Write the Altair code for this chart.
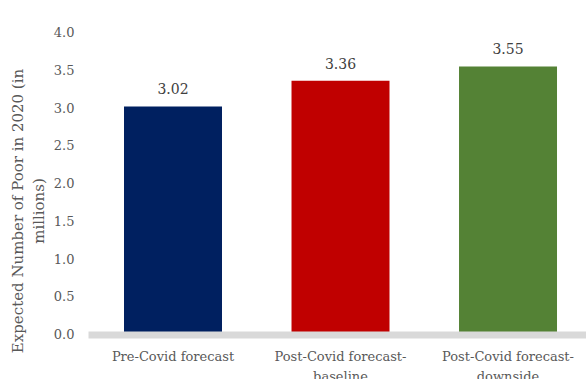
import altair as alt
import pandas as pd

categories = ["Pre-Covid forecast", "Post-Covid forecast-baseline", "Post-Covid forecast-downside"]
values = [3.02, 3.36, 3.55]
colors = ["#002060", "#C00000", "#548235"]
yticks = [0, 0.5, 1, 1.5, 2, 2.5, 3, 3.5, 4]

df = pd.DataFrame({"cat": categories, "val": values, "color": colors})

FONT = "DejaVu Serif"

base = alt.Chart(df).encode(
    x=alt.X("cat:N", sort=categories,
            scale=alt.Scale(paddingInner=0.415, paddingOuter=0.194, align=0.554),
            axis=alt.Axis(title=None, labelAngle=0, domainColor="#d9d9d9", domainWidth=7,
                          ticks=False, labelPadding=22, labelFontSize=13, labelFont=FONT,
                          labelColor="#595959", labelLineHeight=20, labelBaseline="middle",
                          zindex=1, labelOverlap=False,
                          labelExpr="split(replace(datum.label, 'forecast-', 'forecast-|'), '|')")),
    y=alt.Y("val:Q", scale=alt.Scale(domain=[0, 4]),
            axis=alt.Axis(values=yticks, format=".1f", tickCount=12,
                          grid=False, domain=False, ticks=False, labelPadding=14,
                          labelOverlap=False,
                          labelFontSize=13, labelFont=FONT, labelColor="#595959",
                          title=["Expected Number of Poor in 2020 (in", "millions)"],
                          titleFont=FONT, titleFontSize=15, titleFontWeight="normal",
                          titleColor="#595959", titleAngle=-90, titleX=-78, titleY=178,
                          titleAlign="center", titleBaseline="top", titleLineHeight=21)),
)

bars = base.mark_bar().encode(
    color=alt.Color("color:N", scale=None),
)

labels = base.mark_text(dy=-16, font=FONT, fontSize=14, color="#404040").encode(
    text=alt.Text("val:Q", format=".2f"),
)

chart = (bars + labels).properties(
    width=498, height=302,
    autosize=alt.AutoSizeParams(type="none"),
    padding={"left": 88, "top": 32.5, "right": 0, "bottom": 44.5},
).configure_view(stroke=None)

chart.save("out.html", embed_options={"renderer": "svg", "actions": False})
